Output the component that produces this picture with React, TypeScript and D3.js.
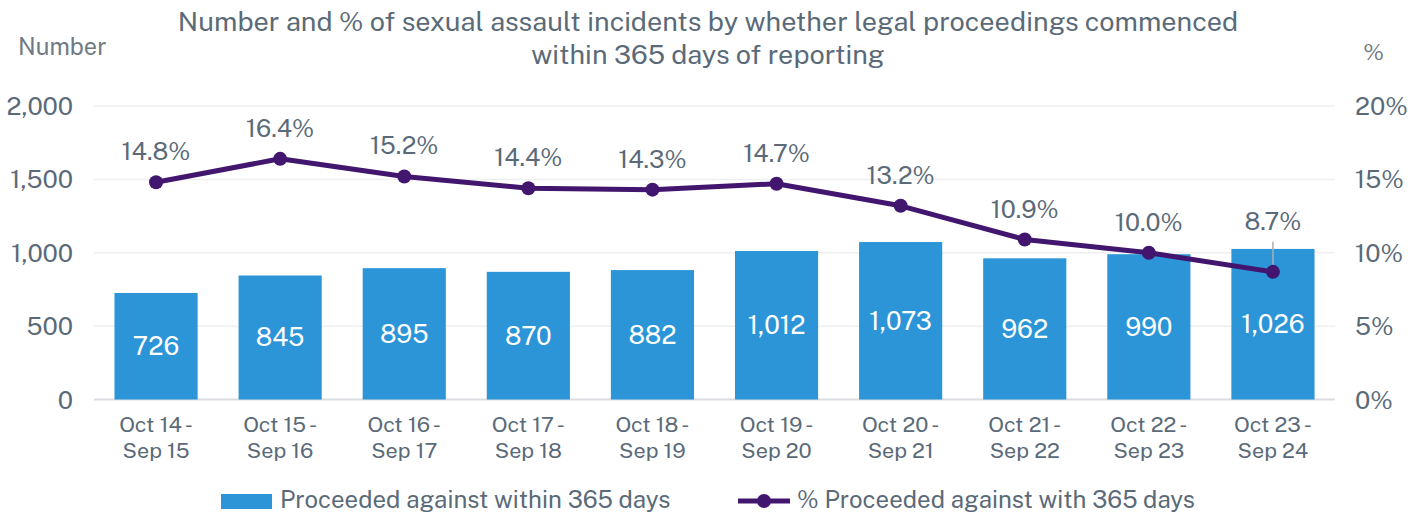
import React from "react";
import * as d3 from "d3";

const categories: string[][] = [
  ["Oct 14 -", "Sep 15"],
  ["Oct 15 -", "Sep 16"],
  ["Oct 16 -", "Sep 17"],
  ["Oct 17 -", "Sep 18"],
  ["Oct 18 -", "Sep 19"],
  ["Oct 19 -", "Sep 20"],
  ["Oct 20 -", "Sep 21"],
  ["Oct 21 -", "Sep 22"],
  ["Oct 22 -", "Sep 23"],
  ["Oct 23 -", "Sep 24"],
];
const counts: number[] = [726, 845, 895, 870, 882, 1012, 1073, 962, 990, 1026];
const percents: number[] = [14.8, 16.4, 15.2, 14.4, 14.3, 14.7, 13.2, 10.9, 10.0, 8.7];
const leftTicks: number[] = [0, 500, 1000, 1500, 2000];
const rightTicks: number[] = [0, 5, 10, 15, 20];

const W = 1409;
const H = 513;
const M = { left: 94, right: 1335, top: 106, bottom: 399.5 };
const BAR = "#2B95D8";
const LINE = "#42166E";
const TXT = "#5A6A78";
const FONT = "'Public Sans', Inter, 'Open Sans', Roboto, sans-serif";

export default function App() {
  const x = d3
    .scaleBand<number>()
    .domain(categories.map((_, i) => i))
    .range([M.left, M.right])
    .paddingInner(0.33)
    .paddingOuter(0.165);
  const yL = d3.scaleLinear().domain([0, 2000]).range([M.bottom, M.top]);
  const yR = d3.scaleLinear().domain([0, 20]).range([M.bottom, M.top]);
  const cx = (i: number) => (x(i) as number) + x.bandwidth() / 2;
  const line = d3
    .line<number>()
    .x((_, i) => cx(i))
    .y((d) => yR(d));
  const fmt = d3.format(",");

  return (
    <svg width={W} height={H} style={{ position: "absolute", left: 0, top: 0 }} fontFamily={FONT}>
      <rect width={W} height={H} fill="#fff" />
      <text x={708} y={31} textAnchor="middle" fontSize={27} fill={TXT}>
        Number and % of sexual assault incidents by whether legal proceedings commenced
      </text>
      <text x={708} y={64} textAnchor="middle" fontSize={27} fill={TXT}>
        within 365 days of reporting
      </text>
      <text x={18} y={55} fontSize={23.5} fill="#6F7A84">Number</text>
      <text x={1384} y={60} textAnchor="end" fontSize={23} fill="#6F7A84">%</text>

      {leftTicks.map((t) => (
        <g key={"g" + t}>
          <line
            x1={M.left}
            x2={M.right}
            y1={yL(t)}
            y2={yL(t)}
            stroke={t === 0 ? "#D9DCE0" : "#EEEFF1"}
            strokeWidth={t === 0 ? 2 : 1.5}
          />
          <text x={73} y={yL(t) + 9} textAnchor="end" fontSize={25} fill={TXT}>
            {fmt(t)}
          </text>
        </g>
      ))}
      {rightTicks.map((t) => (
        <text key={"r" + t} x={1355} y={yR(t) + 9} fontSize={25} fill={TXT}>
          {t}%
        </text>
      ))}

      {counts.map((v, i) => (
        <g key={"b" + i}>
          <rect x={x(i)} y={yL(v)} width={x.bandwidth()} height={yL(0) - yL(v)} fill={BAR} />
          <text x={cx(i)} y={(yL(v) + yL(0)) / 2 + 9} textAnchor="middle" fontSize={25.5} fill="#fff">
            {fmt(v)}
          </text>
        </g>
      ))}

      {categories.map((c, i) => (
        <g key={"c" + i}>
          <text x={cx(i)} y={432} textAnchor="middle" fontSize={21.5} fill={TXT}>{c[0]}</text>
          <text x={cx(i)} y={458} textAnchor="middle" fontSize={21.5} fill={TXT}>{c[1]}</text>
        </g>
      ))}

      <path d={line(percents) || ""} fill="none" stroke={LINE} strokeWidth={5} strokeLinejoin="round" />
      {percents.map((p, i) => {
        const last = i === percents.length - 1;
        const ly = last ? yR(p) - 42 : yR(p) - 22;
        return (
          <g key={"p" + i}>
            {last && (
              <line x1={cx(i)} x2={cx(i)} y1={yR(p) - 30} y2={yR(p) - 4} stroke="#A8AEB4" strokeWidth={1.5} />
            )}
            <circle cx={cx(i)} cy={yR(p)} r={7} fill={LINE} />
            <text x={cx(i)} y={ly} textAnchor="middle" fontSize={24.5} fill={TXT}>
              {p.toFixed(1)}%
            </text>
          </g>
        );
      })}

      <rect x={221} y={494} width={51} height={15} fill={BAR} />
      <text x={280} y={508} fontSize={24} fill={TXT}>Proceeded against within 365 days</text>
      <line x1={738} x2={790} y1={501} y2={501} stroke={LINE} strokeWidth={5} />
      <circle cx={764} cy={501} r={7} fill={LINE} />
      <text x={797} y={508} fontSize={24} fill={TXT}>% Proceeded against with 365 days</text>
    </svg>
  );
}
